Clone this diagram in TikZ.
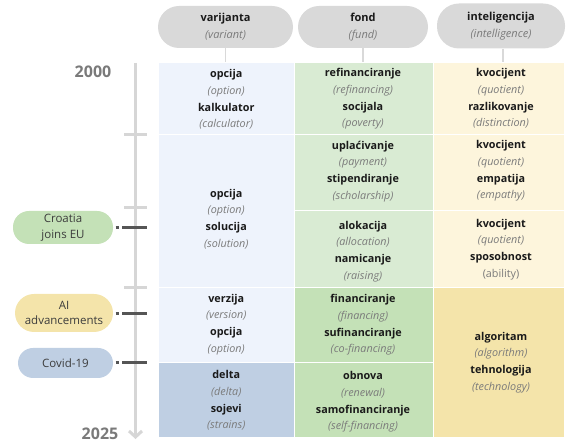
\documentclass[tikz,border=0pt]{standalone}
\usepackage{fontspec}
\setmainfont{Open Sans}
\definecolor{hdrgray}{HTML}{D9D9D9}
\definecolor{blueL}{HTML}{EEF3FC}
\definecolor{blueD}{HTML}{BFCFE3}
\definecolor{greenL}{HTML}{D9EBD3}
\definecolor{greenD}{HTML}{C4E1B7}
\definecolor{yelL}{HTML}{FDF5DC}
\definecolor{yelD}{HTML}{F4E4AA}
\definecolor{tlgray}{HTML}{D6D6D6}
\definecolor{markgray}{HTML}{555555}
\definecolor{itgray}{HTML}{7A7A7A}
\definecolor{ink}{HTML}{1A1A1A}
\newcommand\wordpair[2]{\textbf{#1}\\{\color{itgray}\textit{(#2)}}}
\begin{document}
\begin{tikzpicture}[x=1pt,y=-1pt,
  cell/.style={draw=white, line width=1.5pt, inner sep=0pt},
  txt/.style={align=center, inner sep=0pt, text=ink, font=\fontsize{10.8}{16.7}\selectfont},
  hdr/.style={fill=hdrgray, rounded corners=21pt, inner sep=0pt, minimum height=42pt, align=center, text=ink, font=\fontsize{11}{17}\selectfont},
  evpill/.style={rounded corners=16pt, inner sep=0pt, align=center, text=ink!85, font=\fontsize{11.5}{15.5}\selectfont},
  tline/.style={draw=tlgray, line width=3pt},
  hconn/.style={draw=hdrgray, line width=1.5pt},
  evline/.style={draw=markgray, line width=3pt, dash pattern=on 0pt off 2.5pt on 3pt off 3.5pt on 25pt},
  year/.style={text=itgray, font=\fontsize{16}{18}\selectfont\bfseries, inner sep=0pt}
]
\useasboundingbox (0,0) rectangle (566,443);

% headers
\node[hdr, minimum width=135pt] (h1) at (225.5,27) {\textbf{varijanta}\\{\color{itgray}\textit{(variant)}}};
\node[hdr, minimum width=130pt] (h2) at (363,27) {\textbf{fond}\\{\color{itgray}\textit{(fund)}}};
\node[hdr, minimum width=128pt, minimum height=45pt, rounded corners=22pt] (h3) at (501,26) {\textbf{inteligencija}\\{\color{itgray}\textit{(intelligence)}}};

% cells
\node[cell, fill=blueL, minimum width=136.5pt, minimum height=72pt] (c11) at (226.25,98.5) {};
\node[cell, fill=blueL, minimum width=136.5pt, minimum height=153pt] (c12) at (226.25,211) {};
\node[cell, fill=blueL, minimum width=136.5pt, minimum height=75pt] (c13) at (226.25,325) {};
\node[cell, fill=blueD, minimum width=136.5pt, minimum height=75pt] (c14) at (226.25,400) {};

\node[cell, fill=greenL, minimum width=139pt, minimum height=72pt] (c21) at (364,98.5) {};
\node[cell, fill=greenL, minimum width=139pt, minimum height=76pt] (c22) at (364,172.5) {};
\node[cell, fill=greenL, minimum width=139pt, minimum height=77pt] (c23) at (364,249) {};
\node[cell, fill=greenD, minimum width=139pt, minimum height=75pt] (c24) at (364,325) {};
\node[cell, fill=greenD, minimum width=139pt, minimum height=75pt] (c25) at (364,400) {};

\node[cell, fill=yelL, minimum width=131.5pt, minimum height=72pt] (c31) at (499.25,98.5) {};
\node[cell, fill=yelL, minimum width=131.5pt, minimum height=76pt] (c32) at (499.25,172.5) {};
\node[cell, fill=yelL, minimum width=131.5pt, minimum height=77pt] (c33) at (499.25,249) {};
\node[cell, fill=yelD, minimum width=131.5pt, minimum height=150pt] (c34) at (499.25,362.5) {};

% header connectors
\draw[hconn] (h1.south) -- (h1.south |- c11.north);
\draw[hconn] (h2.south) -- (h2.south |- c21.north);
\draw[hconn] (h3.south -| 503,0) -- (503,0 |- c31.north);

% cell texts
\node[txt] (t11) at (226.25,99.5) {\wordpair{opcija}{option}\\\wordpair{kalkulator}{calculator}};
\node[txt] (t12) at (226.25,219) {\wordpair{opcija}{option}\\\wordpair{solucija}{solution}};
\node[txt] (t13) at (226.25,324.5) {\wordpair{verzija}{version}\\\wordpair{opcija}{option}};
\node[txt] (t14) at (226.25,400.5) {\wordpair{delta}{delta}\\\wordpair{sojevi}{strains}};

\node[txt] (t21) at (363,99) {\wordpair{refinanciranje}{refinancing}\\\wordpair{socijala}{poverty}};
\node[txt] (t22) at (363,171.5) {\wordpair{uplaćivanje}{payment}\\\wordpair{stipendiranje}{scholarship}};
\node[txt] (t23) at (363,251.5) {\wordpair{alokacija}{allocation}\\\wordpair{namicanje}{raising}};
\node[txt] (t24) at (363,325) {\wordpair{financiranje}{financing}\\\wordpair{sufinanciranje}{co-financing}};
\node[txt] (t25) at (363,402) {\wordpair{obnova}{renewal}\\\wordpair{samofinanciranje}{self-financing}};

\node[txt] (t31) at (501,98.5) {\wordpair{kvocijent}{quotient}\\\wordpair{razlikovanje}{distinction}};
\node[txt] (t32) at (501,171) {\wordpair{kvocijent}{quotient}\\\wordpair{empatija}{empathy}};
\node[txt] (t33) at (501,249.5) {\wordpair{kvocijent}{quotient}\\\textbf{sposobnost}\\{\color{itgray}(ability)}};
\node[txt] (t34) at (501,362.5) {\wordpair{algoritam}{algorithm}\\\wordpair{tehnologija}{technology}};

% timeline
\coordinate (tl0) at (135.5,63);
\coordinate (tl1) at (135.5,437);
\draw[tline] (tl0) -- (tl1);
\coordinate (arL) at (129,431);
\coordinate (arR) at (142,431);
\draw[tline, line join=miter] (arL) -- (tl1) -- (arR);
\foreach \yy/\nm in {135/k1,208/k2,288/k3}{
  \coordinate (\nm a) at (124,\yy);
  \coordinate (\nm b) at (146.5,\yy);
  \draw[tline] (\nm a) -- (\nm b);
}

% years
\node[year] (y0) at (93,72) {2000};
\node[year] (y1) at (100,433.5) {2025};

% events
\node[evpill, fill=greenD, minimum width=100pt, minimum height=33pt] (e1) at (63,227.5) {Croatia\\joins EU};
\node[evpill, fill=yelD, minimum width=98pt, minimum height=38pt, rounded corners=19pt] (e2) at (64,313) {AI\\advancements};
\node[evpill, fill=blueD, minimum width=95pt, minimum height=30pt, rounded corners=15pt] (e3) at (65.5,363) {Covid-19};
\coordinate (m1) at (147,228);
\coordinate (m2) at (147,314);
\coordinate (m3) at (147,363);
\draw[evline] (e1.east |- m1) -- (m1);
\draw[evline] (e2.east |- m2) -- (m2);
\draw[evline] (e3.east |- m3) -- (m3);
\end{tikzpicture}
\end{document}
